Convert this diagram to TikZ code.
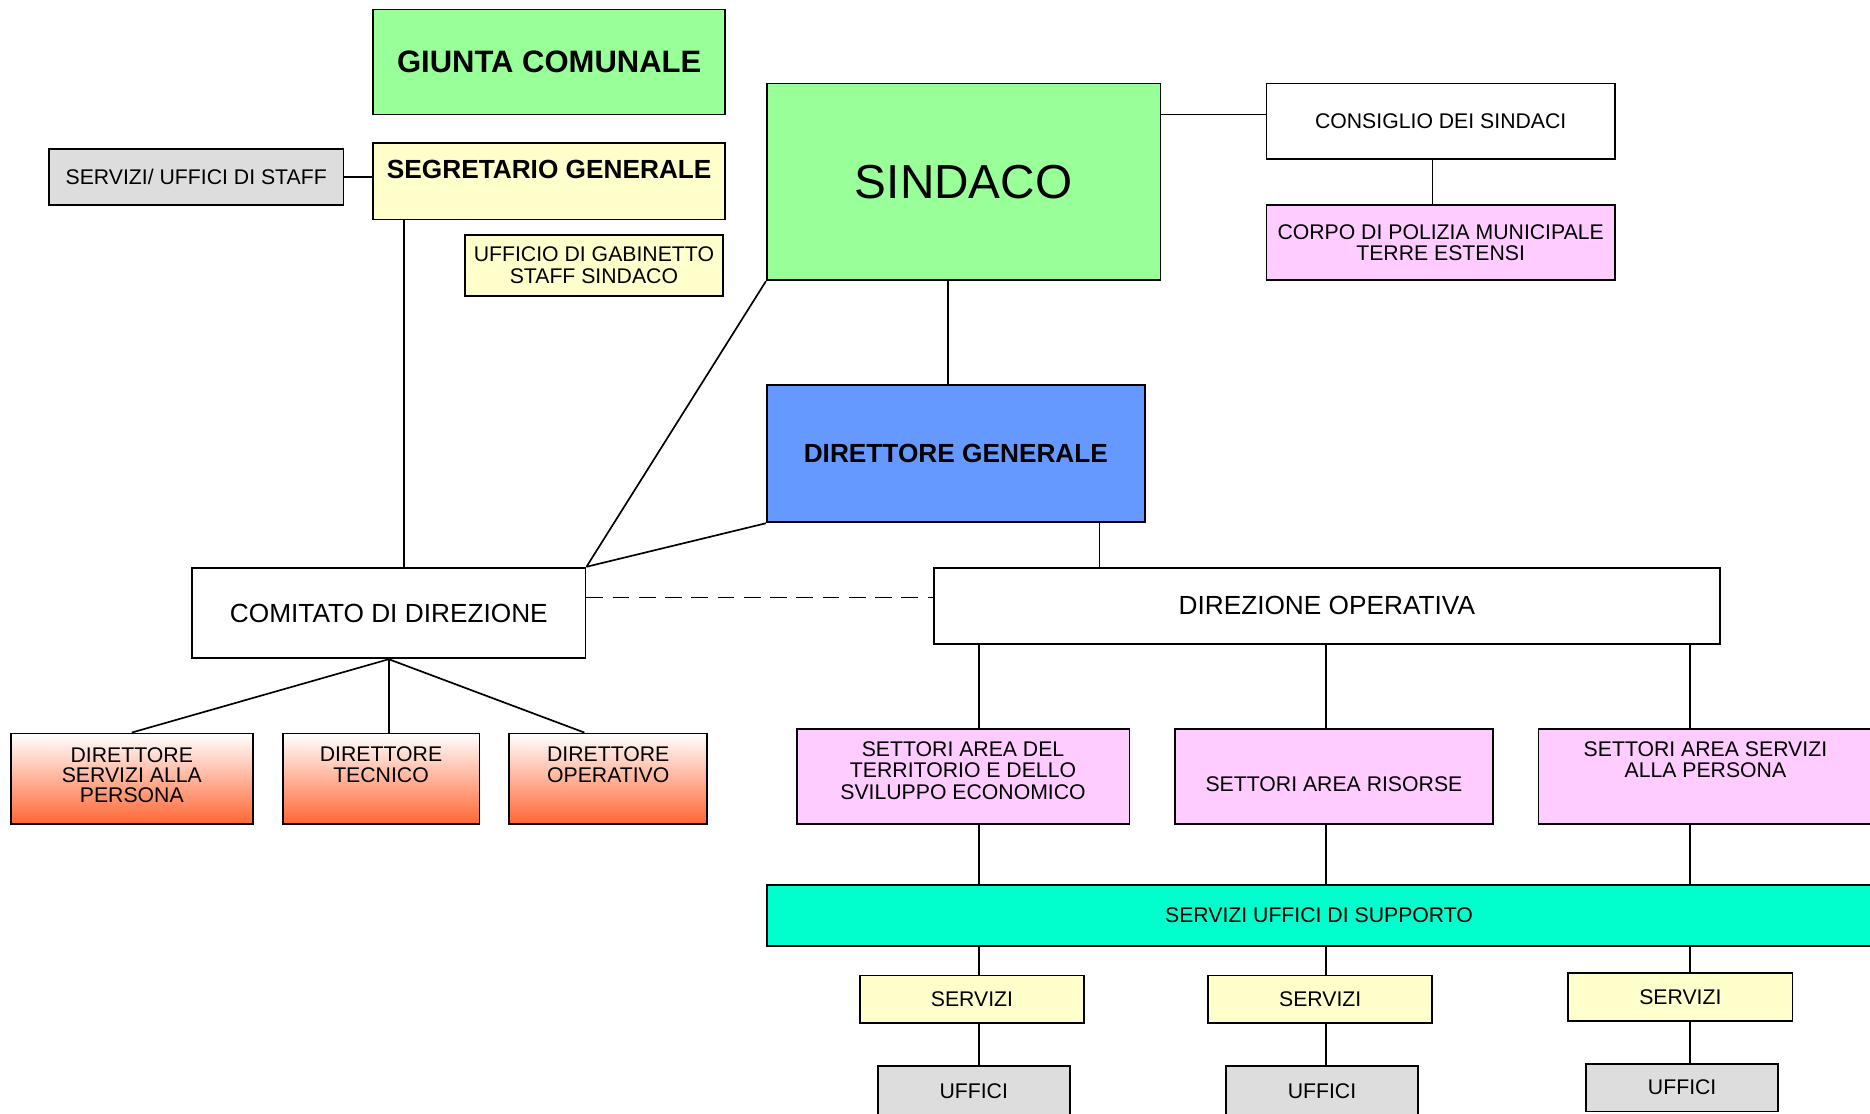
\documentclass[tikz,border=0pt]{standalone}
\usepackage{fontspec}
\setmainfont{Liberation Sans}
\usepackage{tikz}
\usetikzlibrary{positioning, calc}
\definecolor{boardGreen}{HTML}{99FF99}
\definecolor{paleYellow}{HTML}{FFFFCC}
\definecolor{staffGrey}{HTML}{DDDDDD}
\definecolor{areaPink}{HTML}{FFCCFF}
\definecolor{dirBlue}{HTML}{6699FF}
\definecolor{supportAqua}{HTML}{00FFCC}
\definecolor{dirOrange}{HTML}{FF6633}

\begin{document}
\begin{tikzpicture}[
        x=1pt, y=-1pt,
        % Box styles
        box/.style={
            rectangle,
            draw=black,
            line width=1.5pt,
            fill=white,
            align=center,
            inner sep=0pt,
            font=\fontsize{17.8}{18}\selectfont
        },
        dims/.style 2 args={minimum width=#1pt, minimum height=#2pt},
        lift/.style={text depth=#1},
        mid/.style={font=\fontsize{22}{24}\selectfont},
        heading/.style={font=\fontsize{22}{24}\selectfont\bfseries},
        director/.style={
            box,
            top color=white,
            bottom color=dirOrange,
            font=\fontsize{17.8}{17}\selectfont
        },
        sector/.style={box, fill=areaPink},
        wire/.style={draw, line width=1.4pt},
        dashwire/.style={wire, dash pattern=on 14pt off 8pt}
    ]

    \fill[white] (0,0) rectangle (1568,934);
    \useasboundingbox (0,0) rectangle (1568,934);

    % --- Top level ---
    \node[box, fill=boardGreen, dims={295}{88}, font=\fontsize{26}{28}\selectfont\bfseries] (giunta) at (460.5,52) {GIUNTA COMUNALE};
    \node[box, fill=paleYellow, dims={295}{64}, heading, lift=20pt] (segretario) at (460.5,152) {SEGRETARIO GENERALE};
    \node[box, fill=staffGrey, dims={247}{47}] (staff) at (164.5,148.5) {SERVIZI/ UFFICI DI STAFF};
    \node[box, fill=paleYellow, dims={216}{51}] (gabinetto) at (498,222.5) {UFFICIO DI GABINETTO\\STAFF SINDACO};
    \node[box, fill=boardGreen, dims={330}{165}, font=\fontsize{40}{44}\selectfont] (sindaco) at (808,152.5) {SINDACO};
    \node[box, dims={292}{63}] (consiglio) at (1208,101.5) {CONSIGLIO DEI SINDACI};
    \node[box, fill=areaPink, dims={292}{63}] (polizia) at (1208,203.5) {CORPO DI POLIZIA MUNICIPALE\\TERRE ESTENSI};
    \node[box, fill=dirBlue, dims={317}{115}, heading] (dg) at (801.5,380.5) {DIRETTORE GENERALE};

    % --- Direzione ---
    \node[box, dims={330}{76}, mid] (comitato) at (326,514) {COMITATO DI DIREZIONE};
    \node[box, dims={659}{64}, mid] (dirop) at (1112.5,508) {DIREZIONE OPERATIVA};

    \node[director, dims={203}{76}, lift=6pt] (dservizi) at (110.5,653) {DIRETTORE\\SERVIZI ALLA\\PERSONA};
    \node[director, dims={165}{76}, lift=24pt] (dtecnico) at (319.5,653) {DIRETTORE\\TECNICO};
    \node[director, dims={166}{76}, lift=24pt] (doperativo) at (510,653) {DIRETTORE\\OPERATIVO};

    % --- Settori ---
    \node[sector, dims={279}{80}, lift=10pt] (sterritorio) at (807.5,651) {SETTORI AREA DEL\\TERRITORIO E DELLO\\SVILUPPO ECONOMICO};
    \node[sector, dims={267}{80}, text height=24.7pt] (srisorse) at (1118.5,651) {SETTORI AREA RISORSE};
    \node[sector, dims={280}{80}, lift=28pt] (spersona) at (1430,651) {SETTORI AREA SERVIZI\\ALLA PERSONA};
    \node[box, fill=supportAqua, dims={926}{51}] (supporto) at (1106,767.5) {SERVIZI UFFICI DI SUPPORTO};

    \foreach \n/\cx/\sy/\uy/\uh in {1/815/838/915/42, 2/1107/838/915/42, 3/1409/836/912/40}{
        \node[box, fill=paleYellow, dims={188}{40}] (servizi\n) at (\cx,\sy) {SERVIZI};
        \node[box, fill=staffGrey, dims={161}{\uh}] (uffici\n) at (\cx+1.5,\uy) {UFFICI};
    }

    % --- Connections ---
    \draw[wire] (staff.east) -- (staff.east -| segretario.west);
    \draw[wire] ([yshift=5.5pt]consiglio.west) -- ([yshift=5.5pt]consiglio.west -| sindaco.east);
    \draw[wire] ([xshift=-7pt]consiglio.south) -- ([xshift=-7pt]polizia.north);
    \draw[wire] ([xshift=-13pt]sindaco.south) -- ([xshift=-13pt]sindaco.south |- dg.north);
    \draw[wire] ([xshift=13pt]comitato.north) -- ([xshift=13pt]comitato.north |- segretario.south);
    \draw[wire] (sindaco.south west) -- (comitato.north east);
    \draw[wire] (dg.south west) -- (comitato.north east);
    \draw[dashwire] ([yshift=13pt]comitato.east) -- ([yshift=13pt]comitato.east -| dirop.west);
    \draw[wire] ([xshift=120.5pt]dg.south) -- ([xshift=120.5pt]dg.south |- dirop.north);

    \draw[wire] (comitato.south) -- (dservizi.north);
    \draw[wire] (comitato.south) -- (comitato.south |- dtecnico.north);
    \draw[wire] (comitato.south) -- ([xshift=-20pt]doperativo.north);

    \foreach \n/\area/\cx in {1/sterritorio/821, 2/srisorse/1112, 3/spersona/1417}{
        \coordinate (col\n) at (\cx,0);
        \draw[wire] (col\n |- dirop.south) -- (col\n |- \area.north);
        \draw[wire] (col\n |- \area.south) -- (col\n |- supporto.north);
        \draw[wire] (col\n |- supporto.south) -- (col\n |- servizi\n.north);
        \draw[wire] (col\n |- servizi\n.south) -- (col\n |- uffici\n.north);
    }

\end{tikzpicture}
\end{document}
